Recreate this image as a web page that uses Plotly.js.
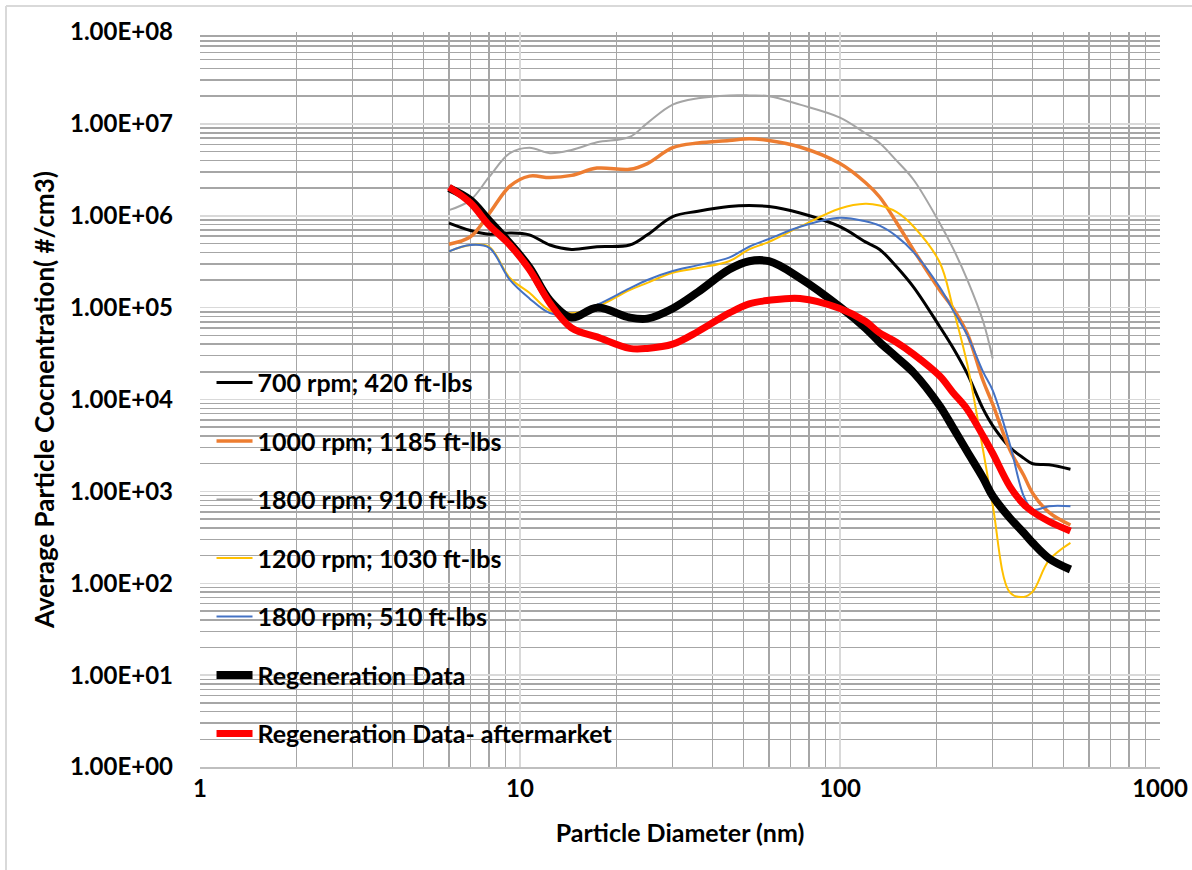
<!DOCTYPE html>
<html>
<head>
<meta charset="utf-8">
<script src="https://cdn.plot.ly/plotly-3.0.1.min.js"></script>
<style>
html,body{margin:0;padding:0;background:#fff;}
#chart{width:1192px;height:870px;}
</style>
</head>
<body>
<div id="chart"></div>
<script>
// Particle diameter (nm)
const diameter = [6, 7, 8, 9.3, 10.7, 12.4, 14.5, 17.4, 22, 25, 30, 36, 45, 52, 60, 75, 100, 120, 133, 150, 170, 205, 225, 250, 280, 300, 340, 375, 400, 450, 525];

const rpm700_420 = [8.3e5, 6.9e5, 6.3e5, 6.5e5, 6.2e5, 4.8e5, 4.3e5, 4.6e5, 4.8e5, 6.2e5, 9.8e5, 1.12e6, 1.26e6, 1.29e6, 1.26e6, 1.07e6, 7.6e5, 5.2e5, 4.3e5, 2.8e5, 1.66e5, 6.2e4, 3.7e4, 1.9e4, 7.9e3, 5.2e3, 3.0e3, 2.3e3, 2.0e3, 1.95e3, 1.74e3];
const rpm1000_1185 = [4.9e5, 5.9e5, 1.05e6, 2.1e6, 2.7e6, 2.6e6, 2.75e6, 3.3e6, 3.2e6, 3.7e6, 5.5e6, 6.2e6, 6.6e6, 6.9e6, 6.6e6, 5.6e6, 3.7e6, 2.3e6, 1.6e6, 8.5e5, 4.2e5, 1.55e5, 1.0e5, 5.2e4, 1.6e4, 8.9e3, 2.8e3, 1.5e3, 955, 590, 430];
const rpm1800_910 = [1.15e6, 1.48e6, 2.63e6, 4.8e6, 5.5e6, 4.8e6, 5.2e6, 6.3e6, 7.2e6, 1.02e7, 1.62e7, 1.9e7, 2.04e7, 2.04e7, 2.0e7, 1.62e7, 1.17e7, 7.9e6, 6.2e6, 4.0e6, 2.45e6, 8.3e5, 4.5e5, 2.0e5, 7.1e4, 2.8e4, null, null, null, null, null];
const rpm1200_1030 = [4.1e5, 4.8e5, 4.6e5, 2.1e5, 1.45e5, 9.3e4, 8.7e4, 1.02e5, 1.55e5, 1.86e5, 2.4e5, 2.7e5, 3.2e5, 4.3e5, 5.2e5, 7.6e5, 1.2e6, 1.35e6, 1.29e6, 1.1e6, 7.6e5, 3.1e5, 1.02e5, 2.4e4, 2.8e3, 710, 79, 71, 81, 178, 275];
const rpm1800_510 = [4.1e5, 4.8e5, 4.5e5, 2.0e5, 1.26e5, 8.7e4, 8.3e4, 1.07e5, 1.62e5, 2.0e5, 2.5e5, 2.9e5, 3.5e5, 4.6e5, 5.6e5, 7.6e5, 9.5e5, 8.7e5, 7.8e5, 6.0e5, 4.0e5, 1.66e5, 9.5e4, 5.0e4, 2.0e4, 1.26e4, 3.2e3, 890, 630, 690, 690];
const regeneration = [2.0e6, 1.48e6, 8.9e5, 5.0e5, 2.75e5, 1.2e5, 7.8e4, 1.0e5, 7.8e4, 7.6e4, 9.8e4, 1.48e5, 2.6e5, 3.2e5, 3.2e5, 2.1e5, 1.02e5, 6.0e4, 4.2e4, 2.9e4, 1.95e4, 8.5e3, 5.0e3, 2.7e3, 1.4e3, 890, 510, 355, 275, 186, 141];
const regenAftermarket = [2.05e6, 1.38e6, 7.9e5, 4.8e5, 2.6e5, 1.12e5, 6.0e4, 4.8e4, 3.6e4, 3.6e4, 4.0e4, 5.5e4, 8.7e4, 1.1e5, 1.2e5, 1.26e5, 9.8e4, 7.1e4, 5.3e4, 4.2e4, 3.1e4, 1.8e4, 1.2e4, 7.8e3, 4.0e3, 2.6e3, 1.12e3, 725, 600, 470, 370];

const seriesNames = ["700 rpm; 420 ft-lbs", "1000 rpm; 1185 ft-lbs", "1800 rpm; 910 ft-lbs", "1200 rpm; 1030 ft-lbs", "1800 rpm; 510 ft-lbs", "Regeneration Data", "Regeneration Data- aftermarket"];
const seriesValues = [rpm700_420, rpm1000_1185, rpm1800_910, rpm1200_1030, rpm1800_510, regeneration, regenAftermarket];
const seriesColors = ["#000000", "#ED7D31", "#A5A5A5", "#FFC000", "#4472C4", "#000000", "#FF0000"];
const seriesWidths = [3, 3.5, 2, 2, 2, 8, 7];

const xTickVals = [1, 10, 100, 1000];
const xTickText = ["1", "10", "100", "1000"];
const yTickVals = [1, 10, 100, 1e3, 1e4, 1e5, 1e6, 1e7, 1e8];
const yTickText = ["1.00E+00", "1.00E+01", "1.00E+02", "1.00E+03", "1.00E+04", "1.00E+05", "1.00E+06", "1.00E+07", "1.00E+08"];

function minorVals(lo, hi) {
  const out = [];
  for (let d = lo; d < hi; d *= 10) for (let k = 2; k <= 9; k++) out.push(k * d);
  return out;
}

const traces = seriesNames.map((n, i) => ({
  x: diameter,
  y: seriesValues[i],
  name: n,
  type: "scatter",
  mode: "lines",
  legendgroup: "g" + i,
  line: {color: seriesColors[i], width: seriesWidths[i], shape: "spline", smoothing: 1}
}));
const fontFam = "Lato, 'Open Sans', sans-serif";
const layout = {
  width: 1192, height: 870,
  margin: {l: 200, r: 32, t: 32, b: 103},
  paper_bgcolor: "#ffffff", plot_bgcolor: "#ffffff",
  showlegend: true,
  xaxis: {
    type: "log", range: [0, 3],
    tickmode: "array", tickvals: xTickVals, ticktext: xTickText,
    showgrid: true, gridcolor: "#d9d9d9", gridwidth: 1.5,
    minor: {tickmode: "array", tickvals: minorVals(1, 1000), showgrid: true, gridcolor: "#a6a6a6", gridwidth: 1.5, ticks: ""},
    showline: true, linecolor: "#bfbfbf", linewidth: 1.5, mirror: false,
    ticks: "", zeroline: false,
    tickfont: {family: fontFam, size: 24, color: "#000", weight: "bold"},
    title: {text: "Particle Diameter (nm)", font: {family: fontFam, size: 25, color: "#000", weight: "bold"}, standoff: 23}
  },
  yaxis: {
    type: "log", range: [0, 8],
    tickmode: "array", tickvals: yTickVals, ticktext: yTickText,
    showgrid: true, gridcolor: "#d9d9d9", gridwidth: 1.5,
    minor: {tickmode: "array", tickvals: minorVals(1, 1e8), showgrid: true, gridcolor: "#a6a6a6", gridwidth: 1.5, ticks: ""},
    showline: false, ticks: "", zeroline: false,
    ticklabelstandoff: 26,
    tickfont: {family: fontFam, size: 24, color: "#000", weight: "bold"},
    title: {text: "Average Particle Cocnentration( #/cm3)", font: {family: fontFam, size: 26, color: "#000", weight: "bold"}, standoff: 7}
  },
  legend: {
    x: 0.012, y: 0.554, xanchor: "left", yanchor: "top",
    bgcolor: "rgba(0,0,0,0)", borderwidth: 0,
    tracegroupgap: 23, itemwidth: 36,
    font: {family: fontFam, size: 25, color: "#000", weight: "bold"}
  },
  shapes: [
    {type: "line", xref: "paper", yref: "paper", x0: -0.2021, x1: 1.04, y0: 1.0354, y1: 1.0354, line: {color: "#d9d9d9", width: 2}},
    {type: "line", xref: "paper", yref: "paper", x0: -0.2021, x1: -0.2021, y0: 1.0354, y1: -0.15, line: {color: "#d9d9d9", width: 2}}
  ]
};
Plotly.newPlot("chart", traces, layout, {displayModeBar: false, staticPlot: true});
</script>
</body>
</html>
